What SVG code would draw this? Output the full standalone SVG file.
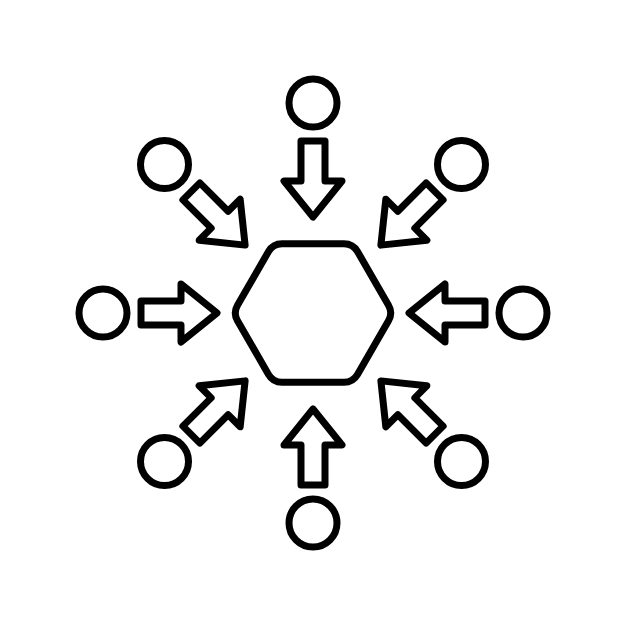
<svg xmlns="http://www.w3.org/2000/svg" xmlns:xlink="http://www.w3.org/1999/xlink" width="626" height="626" viewBox="0 0 626 626">
<style>
.s{fill:none;stroke:#000;stroke-width:7;stroke-linejoin:round;stroke-linecap:round}
</style>
<defs>
<circle id="c" cx="313" cy="103" r="24" class="s"/>
<path id="a" class="s" d="M301,141 L325,141 L325,181 L342,181 L313,217 L284,181 L301,181 Z"/>
</defs>
<rect width="626" height="626" fill="#fff"/>
<g id="hub">
<path class="s" d="M388.5,320.79 L357.5,374.49 Q353,382.28 344,382.28 L282,382.28 Q273,382.28 268.5,374.49 L237.5,320.79 Q233,313 237.5,305.21 L268.5,251.51 Q273,243.72 282,243.72 L344,243.72 Q353,243.72 357.5,251.51 L388.5,305.21 Q393,313 388.5,320.79 Z"/>
</g>
<g id="n-top"><use href="#c"/></g>
<g id="n-topright"><use href="#c" transform="rotate(45 313 313)"/></g>
<g id="n-right"><use href="#c" transform="rotate(90 313 313)"/></g>
<g id="n-bottomright"><use href="#c" transform="rotate(135 313 313)"/></g>
<g id="n-bottom"><use href="#c" transform="rotate(180 313 313)"/></g>
<g id="n-bottomleft"><use href="#c" transform="rotate(225 313 313)"/></g>
<g id="n-left"><use href="#c" transform="rotate(270 313 313)"/></g>
<g id="n-topleft"><use href="#c" transform="rotate(315 313 313)"/></g>
<g id="connectors">
<use href="#a"/>
<use href="#a" transform="rotate(45 313 313)"/>
<use href="#a" transform="rotate(90 313 313)"/>
<use href="#a" transform="rotate(135 313 313)"/>
<use href="#a" transform="rotate(180 313 313)"/>
<use href="#a" transform="rotate(225 313 313)"/>
<use href="#a" transform="rotate(270 313 313)"/>
<use href="#a" transform="rotate(315 313 313)"/>
</g>
</svg>
